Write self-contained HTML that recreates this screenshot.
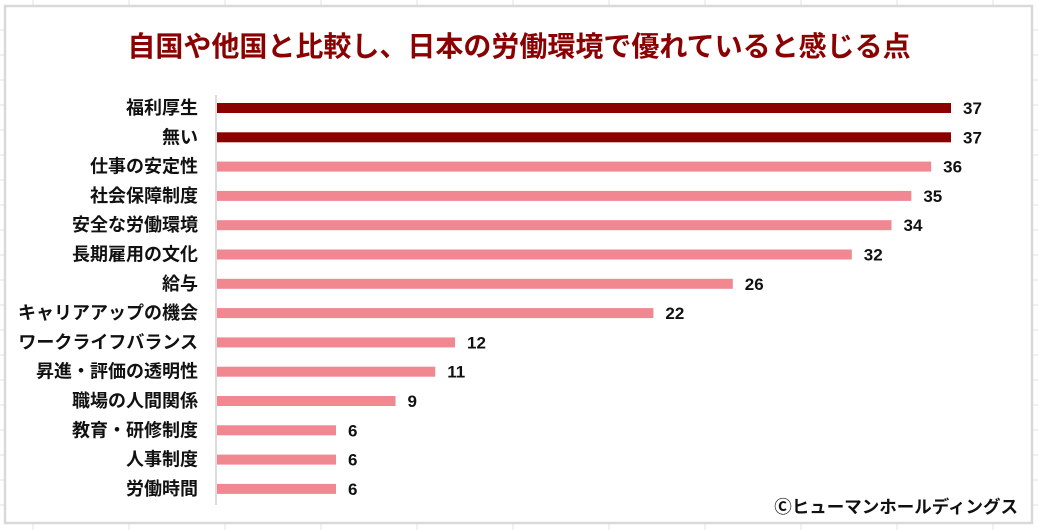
<!DOCTYPE html>
<html><head><meta charset="utf-8"><style>
body{margin:0;width:1038px;height:530px;background:#fff;overflow:hidden;font-family:"Liberation Sans","Noto Sans CJK JP",sans-serif;}
svg{display:block}
</style></head><body>
<svg width="1038" height="530" id="svg">
<g id="grid"></g>
<rect x="5" y="6" width="1027" height="517" fill="#fff" stroke="#d9d9d9" stroke-width="2.5"/>
<text x="519" y="56" text-anchor="middle" font-size="28" font-weight="bold" fill="#8b0000">自国や他国と比較し、日本の労働環境で優れていると感じる点</text>
<line x1="216" y1="95" x2="216" y2="505" stroke="#d0d0d0" stroke-width="1.5"/>
<g id="bars"></g>
<text x="1018" y="513" text-anchor="end" font-size="17.5" font-weight="bold" fill="#111">Ⓒヒューマンホールディングス</text>
</svg>
<script>
const categories=["福利厚生","無い","仕事の安定性","社会保障制度","安全な労働環境","長期雇用の文化","給与","キャリアアップの機会","ワークライフバランス","昇進・評価の透明性","職場の人間関係","教育・研修制度","人事制度","労働時間"];
const values=[37,37,36,35,34,32,26,22,12,11,9,6,6,6];
const highlight=[true,true,false,false,false,false,false,false,false,false,false,false,false,false];
const NS="http://www.w3.org/2000/svg";
const x0=217,pxPer=734/37,y0=108,step=29.3;
function xs(v){return x0+v*pxPer;}
function ys(i){return y0+i*step;}
const g=document.getElementById('bars');
function mk(t,a){const e=document.createElementNS(NS,t);for(const k in a)e.setAttribute(k,a[k]);return e;}
const grid=document.getElementById('grid');
[33,129,225,321,417,513,609,705,801,897,993].forEach(x=>{const l=mk('line',{x1:x,y1:0,x2:x,y2:530,stroke:'#e3e3e3'});grid.appendChild(l);});
for(let y=30;y<530;y+=25){const l=mk('line',{x1:0,y1:y,x2:1038,y2:y,stroke:'#e3e3e3'});grid.appendChild(l);}
categories.forEach((c,i)=>{
 const y=ys(i);
 const t=mk('text',{x:198,y:y+6,'text-anchor':'end','font-size':18,'font-weight':'bold',fill:'#111'});t.textContent=c;
 
 
 g.appendChild(t);
 const r=mk('rect',{x:x0,y:y-5,width:xs(values[i])-x0,height:10,fill:highlight[i]?'#8b0000':'#f08791'});
 
 
 g.appendChild(r);
 const v=mk('text',{x:xs(values[i])+12,y:y+6,'font-size':17,'font-weight':'bold',fill:'#111'});v.textContent=values[i];
 
 
 g.appendChild(v);
});
</script>
</body></html>
